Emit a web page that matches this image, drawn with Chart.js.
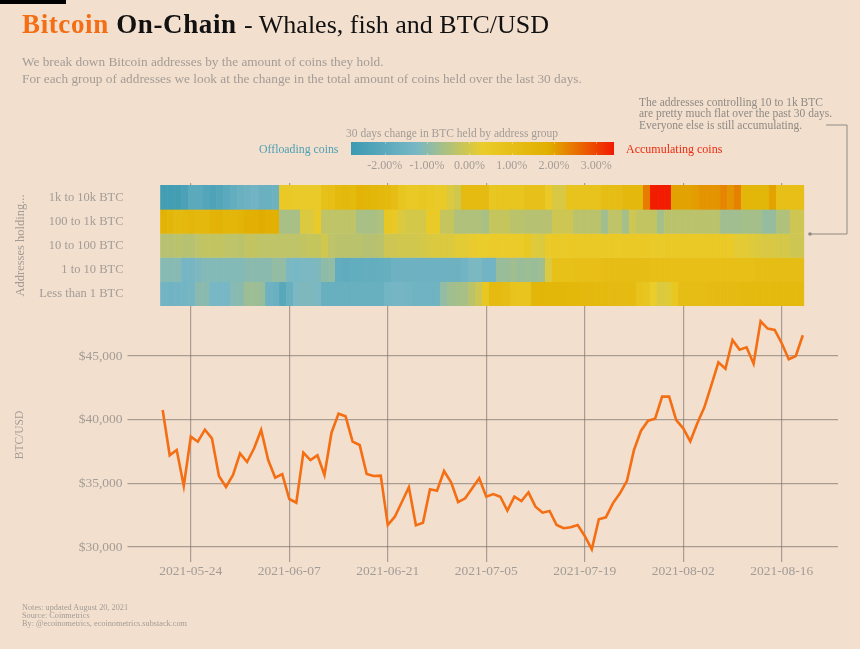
<!DOCTYPE html>
<html>
<head>
<meta charset="utf-8">
<style>
  html, body { margin: 0; padding: 0; background: #f3dfcd; }
  #page { position: relative; width: 860px; height: 649px; overflow: hidden; background: #f3dfcd; font-family: "Liberation Serif", serif; }
  #page div { position: absolute; white-space: nowrap; }
  canvas { position: absolute; left: 0; top: 0; }
  .grey { color: #a29c97; }
  #topbar { left: 0; top: 0; width: 66px; height: 4px; background: #000; }
  #title { left: 22px; top: 7px; font-size: 27px; letter-spacing: 0.62px; line-height: 34px; color: #111; }
  #title b.orange { color: #f46e14; }
  #title span { font-size: 26px; letter-spacing: 0; }
  #sub1, #sub2 { left: 22px; font-size: 13.3px; line-height: 16px; }
  #sub1 { top: 54px; } #sub2 { top: 71px; }
  #page #note { left: 639px; top: 97px; font-size: 11.5px; line-height: 11.3px; color: #8f8a85; white-space: pre; }
  #cbTitle { left: 346px; top: 126px; font-size: 11.5px; line-height: 14px; color: #a29c97; }
  #cbar { left: 351px; top: 142px; width: 263px; height: 13px; background: linear-gradient(to right, #3B9AB2, #78B7C5, #EBCC2A, #E1AF00, #F21A00); }
  #offload { left: 259px; top: 141px; font-size: 11.8px; line-height: 16px; color: #4e9fb3; }
  #accum { left: 626px; top: 141px; font-size: 12px; line-height: 16px; color: #ee2a10; }
  .cbl { top: 158px; font-size: 12px; line-height: 14px; color: #a29c97; transform: translateX(-50%); }
  .cbt { width: 1px; height: 2px; background: rgba(255,255,255,0.3); }
  #page #foot { left: 22px; top: 604px; font-size: 8.25px; line-height: 8.2px; color: #a29c97; white-space: pre; }
  svg { position: absolute; left: 0; top: 0; }
</style>
</head>
<body>
<div id="page">
  <canvas id="chart" width="860" height="649"></canvas>
  <div id="topbar"></div>
  <div id="title"><b class="orange">Bitcoin</b> <b>On-Chain</b> <span>- Whales, fish and BTC/USD</span></div>
  <div id="sub1" class="grey">We break down Bitcoin addresses by the amount of coins they hold.</div>
  <div id="sub2" class="grey">For each group of addresses we look at the change in the total amount of coins held over the last 30 days.</div>
  <div id="note">The addresses controlling 10 to 1k BTC
are pretty much flat over the past 30 days.
Everyone else is still accumulating.</div>
  <div id="cbTitle">30 days change in BTC held by address group</div>
  <div id="offload">Offloading coins</div>
  <div id="cbar"></div>
  <div id="accum">Accumulating coins</div>
  <div id="foot">Notes: updated August 20, 2021
Source: Coinmetrics
By: @ecoinometrics, ecoinometrics.substack.com</div>
  <svg width="860" height="649">
    <polyline points="826,125 847,125 847,234 810,234" fill="none" stroke="#8f8a85" stroke-width="1"/>
    <circle cx="810" cy="234" r="1.8" fill="#8f8a85"/>
  </svg>
</div>

<script src="https://cdn.jsdelivr.net/npm/chart.js@4/dist/chart.umd.min.js"></script>
<script>
const padBefore = ['2021-05-15','2021-05-16','2021-05-17','2021-05-18','2021-05-19'];
const dates = [
  '2021-05-20','2021-05-21','2021-05-22','2021-05-23','2021-05-24','2021-05-25','2021-05-26','2021-05-27','2021-05-28','2021-05-29','2021-05-30','2021-05-31',
  '2021-06-01','2021-06-02','2021-06-03','2021-06-04','2021-06-05','2021-06-06','2021-06-07','2021-06-08','2021-06-09','2021-06-10','2021-06-11','2021-06-12','2021-06-13','2021-06-14','2021-06-15','2021-06-16','2021-06-17','2021-06-18','2021-06-19','2021-06-20','2021-06-21','2021-06-22','2021-06-23','2021-06-24','2021-06-25','2021-06-26','2021-06-27','2021-06-28','2021-06-29','2021-06-30',
  '2021-07-01','2021-07-02','2021-07-03','2021-07-04','2021-07-05','2021-07-06','2021-07-07','2021-07-08','2021-07-09','2021-07-10','2021-07-11','2021-07-12','2021-07-13','2021-07-14','2021-07-15','2021-07-16','2021-07-17','2021-07-18','2021-07-19','2021-07-20','2021-07-21','2021-07-22','2021-07-23','2021-07-24','2021-07-25','2021-07-26','2021-07-27','2021-07-28','2021-07-29','2021-07-30','2021-07-31',
  '2021-08-01','2021-08-02','2021-08-03','2021-08-04','2021-08-05','2021-08-06','2021-08-07','2021-08-08','2021-08-09','2021-08-10','2021-08-11','2021-08-12','2021-08-13','2021-08-14','2021-08-15','2021-08-16','2021-08-17','2021-08-18','2021-08-19'];
const padAfter = ['2021-08-20','2021-08-21','2021-08-22','2021-08-23','2021-08-24'];
const tickDates = ['2021-05-24','2021-06-07','2021-06-21','2021-07-05','2021-07-19','2021-08-02','2021-08-16'];

const btcUsd = [
  40758,37200,37617,34790,38665,38270,39210,38535,35575,34712,35654,37355,36675,37750,39190,36830,35440,35730,33770,33480,37410,36830,37200,
  35650,38975,40470,40260,38270,38010,35730,35575,35600,31730,32380,33530,34690,31700,31910,34530,34420,35970,35080,33530,33820,34610,35395,
  33950,34160,33950,32850,33950,33610,34295,33170,32695,32830,31730,31470,31550,31730,30865,29820,32175,32330,33430,34215,35200,37620,39135,
  39920,40080,41810,41810,39970,39320,38300,39710,40970,42720,44500,44000,46255,45500,45680,44395,47720,47150,47040,46000,44740,45000,46630];

const groups = ['1k to 10k BTC','100 to 1k BTC','10 to 100 BTC','1 to 10 BTC','Less than 1 BTC'];
const change1k10k = [
  -2.6,-2.6,-2.6,-2.4,-2.0,-2.0,-2.2,-2.3,-2.2,-2.0,-1.8,-1.6,-1.5,-1.4,-1.6,-1.6,-1.5,
  0.5,0.5,0.4,0.4,0.4,0.4,0.9,1.0,1.3,1.4,1.3,1.6,1.55,1.5,1.4,1.3,1.1,0.7,0.5,0.5,0.6,0.5,0.4,0.4,0.1,-0.05,1.2,1.2,1.2,1.2,
  0.6,0.7,0.7,0.7,0.7,0.9,0.9,0.9,0.4,0.05,0.05,0.8,0.8,0.8,0.8,0.8,1.1,1.1,1.1,1.4,1.4,1.4,2.4,3.4,3.4,3.4,
  2.0,2.0,2.0,2.05,2.15,2.15,2.15,2.3,2.15,2.35,1.5,1.5,1.5,1.5,2.0,1.0,1.0,1.0,1.0];
const change100to1k = [
  1.7,1.5,1.3,1.4,1.5,1.4,1.4,1.6,1.7,1.5,1.5,1.6,1.8,1.8,1.9,1.8,1.8,
  -0.6,-0.6,-0.6,0.1,0.1,0.4,-0.3,-0.3,-0.3,-0.3,-0.3,-0.6,-0.6,-0.6,-0.5,0.6,0.5,0.1,0.0,0.0,0.0,0.4,0.4,-0.2,-0.2,-0.5,-0.5,-0.5,-0.5,-0.6,
  -0.2,-0.2,-0.2,-0.35,-0.35,-0.4,-0.4,-0.4,-0.4,-0.1,-0.1,-0.1,-0.35,-0.35,-0.35,-0.35,-0.7,-0.3,-0.3,-0.65,-0.1,-0.25,-0.25,-0.25,-0.65,-0.35,
  -0.35,-0.35,-0.35,-0.35,-0.35,-0.35,-0.35,-0.7,-0.7,-0.7,-0.65,-0.65,-0.65,-0.85,-0.85,-0.5,-0.5,-0.1,-0.1];
const change10to100 = [
  -0.4,-0.4,-0.35,-0.4,-0.4,-0.3,-0.25,-0.25,-0.25,-0.3,-0.3,-0.35,-0.25,-0.25,-0.3,-0.3,-0.3,-0.3,-0.3,-0.3,-0.25,-0.2,-0.2,-0.05,
  -0.3,-0.35,-0.35,-0.35,-0.35,-0.4,-0.4,-0.35,-0.1,-0.1,-0.05,-0.05,-0.05,0.0,0.05,0.1,0.1,0.1,0.2,0.2,0.25,0.3,0.3,
  0.35,0.35,0.35,0.35,0.35,0.55,0.15,0.1,0.4,0.45,0.4,0.45,0.5,0.45,0.45,0.45,0.45,0.45,0.4,0.5,0.5,0.45,0.45,0.4,0.4,0.45,
  0.45,0.45,0.45,0.45,0.45,0.5,0.5,0.5,0.4,0.2,0.2,0.15,0.1,0.05,0.05,0.0,0.0,-0.1,-0.1];
const change1to10 = [
  -1.05,-1.05,-1.05,-1.3,-1.3,-1.15,-1.1,-1.1,-1.1,-1.1,-1.1,-1.1,-1.0,-1.0,-1.0,-1.0,-0.9,-0.9,-1.2,-1.25,-1.2,-1.2,-1.15,-0.95,-0.9,
  -1.8,-1.85,-1.8,-1.8,-1.75,-1.8,-1.75,-1.7,-1.5,-1.5,-1.5,-1.5,-1.5,-1.5,-1.5,-1.5,-1.5,-1.5,-1.4,-1.2,-1.2,-1.4,-1.4,
  -0.8,-0.8,-0.7,-0.8,-0.75,-0.8,-0.7,0.1,0.95,0.95,0.95,1.0,1.0,1.0,1.0,1.1,1.1,1.1,1.1,1.1,1.1,1.1,1.0,1.0,1.0,
  1.0,1.0,1.0,1.0,1.0,1.0,1.0,1.0,1.0,1.0,1.0,1.0,1.1,1.1,1.1,1.1,1.1,1.1,1.1];
const changeUnder1 = [
  -1.4,-1.45,-1.4,-1.35,-1.3,-1.0,-1.0,-1.25,-1.25,-1.25,-1.05,-1.0,-0.75,-0.75,-0.8,-1.5,-1.6,-2.05,-1.65,-1.2,-1.15,-1.15,-1.2,
  -1.65,-1.65,-1.65,-1.65,-1.65,-1.65,-1.65,-1.65,-1.65,-1.35,-1.3,-1.3,-1.35,-1.45,-1.45,-1.45,-1.45,-0.9,-0.7,-0.65,-0.6,-0.35,-0.1,0.6,
  1.2,1.2,1.1,0.8,0.75,0.75,1.5,1.55,1.5,1.5,1.5,1.45,1.45,1.4,1.4,1.3,1.3,1.25,1.25,1.2,1.2,0.8,0.7,0.3,0.1,0.15,0.6,
  1.1,1.1,1.1,1.1,1.15,1.2,1.2,1.2,1.2,1.3,1.3,1.3,1.3,1.3,1.3,1.3,1.3,1.3];
const changeByGroup = [change1k10k, change100to1k, change10to100, change1to10, changeUnder1];

const colorStops = [[59,154,178],[120,183,197],[235,204,42],[225,175,0],[242,26,0]];
const colorMin = -2.8, colorMax = 3.42;
const legendTicks = [-2, -1, 0, 1, 2, 3];

const greyText = '#a29c97';
const gridColor = 'rgba(120,112,108,0.6)';

function heatColor(v) {
    let t = (v - colorMin) / (colorMax - colorMin) * (colorStops.length - 1);
    t = Math.max(0, Math.min(colorStops.length - 1.001, t));
    let k = Math.floor(t), f = t - k;
    let c = colorStops[k].map((a, n) => Math.round(a + (colorStops[k + 1][n] - a) * f));
    return 'rgb(' + c.join(',') + ')';
}

// colour bar labels and the little white marks on it
let page = document.getElementById('page');
legendTicks.forEach((v) => {
    let px = 351 + (v - colorMin) / (colorMax - colorMin) * 263;
    let el = document.createElement('div');
    el.className = 'cbl';
    el.textContent = v.toFixed(2) + '%';
    el.style.left = px + 'px';
    page.appendChild(el);
    [142, 153].forEach((top) => {
        let mark = document.createElement('div');
        mark.className = 'cbt';
        mark.style.left = px + 'px';
        mark.style.top = top + 'px';
        page.appendChild(mark);
    });
});

// heat cells sit on their own hidden day axis, the tiles are a bit narrower than the price dates
const heatDatasets = groups.map((g, row) => ({
    type: 'bar',
    label: g,
    xAxisID: 'xHeat',
    yAxisID: 'yHeat',
    grouped: false,
    order: 2,
    barPercentage: 1,
    categoryPercentage: 1,
    data: changeByGroup[row].map((v, i) => ({ x: i, y: [row, row + 1] })),
    backgroundColor: changeByGroup[row].map(heatColor),
    borderColor: changeByGroup[row].map(heatColor),
    borderWidth: 0.4,
    borderSkipped: false
}));

new Chart(document.getElementById('chart').getContext('2d'), {
    data: {
        labels: padBefore.concat(dates, padAfter),
        datasets: heatDatasets.concat([{
            type: 'line',
            label: 'BTC/USD',
            xAxisID: 'x',
            yAxisID: 'yPrice',
            order: 1,
            data: btcUsd.map((v, i) => ({ x: dates[i], y: v })),
            borderColor: '#f46e14',
            borderWidth: 2.6,
            pointRadius: 0,
            tension: 0,
            borderJoinStyle: 'miter'
        }])
    },
    options: {
        responsive: false,
        animation: false,
        events: [],
        layout: { padding: { top: 183, right: 22, left: 0.5, bottom: 0 } },
        plugins: { legend: { display: false }, tooltip: { enabled: false } },
        scales: {
            x: {
                type: 'category',
                offset: false,
                afterBuildTicks: (scale) => {
                    scale.ticks = scale.ticks.filter((t) => tickDates.includes(scale.getLabelForValue(t.value)));
                },
                afterFit: (scale) => { scale.height = 87; },
                ticks: { autoSkip: false, maxRotation: 0, padding: 1, color: greyText, font: { family: 'Liberation Serif', size: 13.5 } },
                grid: { color: gridColor, lineWidth: 1.2, tickLength: 0, offset: false },
                border: { display: false }
            },
            xHeat: {
                type: 'linear',
                display: false,
                offset: false,
                min: -5.214,
                max: 96.357
            },
            yHeat: {
                type: 'linear',
                position: 'left',
                stack: 'panels',
                stackWeight: 125,
                weight: 2,
                reverse: true,
                min: -0.1,
                max: 5.1,
                afterBuildTicks: (scale) => { scale.ticks = groups.map((g, i) => ({ value: i + 0.5 })); },
                afterFit: (scale) => { scale.width = 127; },
                ticks: {
                    callback: (v, i) => groups[i],
                    padding: 4,
                    color: greyText,
                    font: { family: 'Liberation Serif', size: 12.5 }
                },
                grid: { display: false, tickLength: 0 },
                border: { display: false },
                title: { display: true, text: 'Addresses holding...', color: greyText, padding: { top: 13, bottom: 0 }, font: { family: 'Liberation Serif', size: 12.5 } }
            },
            yPrice: {
                type: 'linear',
                position: 'left',
                stack: 'panels',
                stackWeight: 254,
                weight: 1,
                min: 28822,
                max: 48768,
                afterBuildTicks: (scale) => { scale.ticks = [30000, 35000, 40000, 45000].map((v) => ({ value: v })); },
                afterFit: (scale) => { scale.width = 127; },
                ticks: {
                    callback: (v) => '$' + v.toLocaleString('en-US'),
                    padding: 5,
                    color: greyText,
                    font: { family: 'Liberation Serif', size: 13.5 }
                },
                grid: { color: gridColor, lineWidth: 1.2, tickLength: 0 },
                border: { display: false },
                title: { display: true, text: 'BTC/USD', color: greyText, padding: { top: 13, bottom: 0 }, font: { family: 'Liberation Serif', size: 11.5 } }
            }
        }
    }
});
</script>
</body>
</html>
